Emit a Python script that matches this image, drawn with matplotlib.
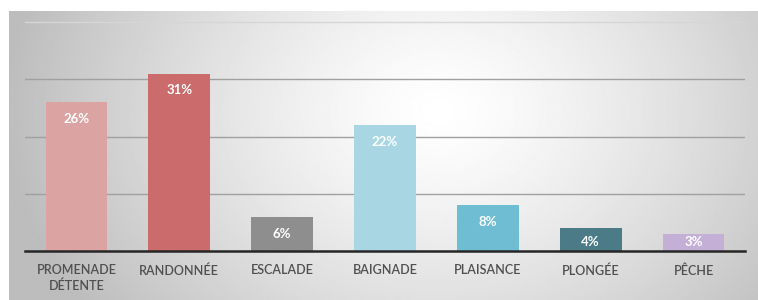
import numpy as np
import matplotlib
matplotlib.use("Agg")
import matplotlib.pyplot as plt

categories = ["PROMENADE\nDÉTENTE", "RANDONNÉE", "ESCALADE", "BAIGNADE", "PLAISANCE", "PLONGÉE", "PÊCHE"]
values = [26, 31, 6, 22, 8, 4, 3]
labels = ["26%", "31%", "6%", "22%", "8%", "4%", "3%"]
colors = ["#DCA3A3", "#CC6B6B", "#8E8E8E", "#A8D7E3", "#6EBDD2", "#4A7B86", "#C4AFD7"]
gridlines = [10, 20, 30]
top_line = 40

W, H = 758, 300
fig = plt.figure(figsize=(W / 100, H / 100), dpi=100)
fig.patch.set_facecolor("white")

# radial gradient background
bg = fig.add_axes([9 / W, 0, 1 - 9 / W, 1 - 11 / H])
bg.set_axis_off()
ny, nx = 290, 750
yy, xx = np.mgrid[0:ny, 0:nx]
cx, cy = 430, 100
d = np.sqrt(((xx - cx) / 420) ** 2 + ((yy - cy) / 330) ** 2)
g = np.clip(1.0 - 0.25 * d ** 1.3, 0.74, 1.0)
bg.imshow(g, cmap="gray", vmin=0, vmax=1, aspect="auto", interpolation="bilinear")

ax = fig.add_axes([25 / W, 1 - 251 / H, 720 / W, 229 / H])
ax.patch.set_alpha(0)
x = np.arange(len(categories))
ax.bar(x, values, width=0.6, color=colors, zorder=3, edgecolor="none")
ax.set_xlim(-0.5, len(categories) - 0.5)
ax.set_ylim(0, 40)
for gy in gridlines:
    ax.axhline(gy, color="#A0A0A0", linewidth=1.0, zorder=1)
ax.axhline(top_line, color="#D6D6D6", linewidth=1.0, zorder=1, clip_on=False)
ax.set_yticks([])
ax.tick_params(axis="x", bottom=False, pad=6)
for s in ["top", "right", "left"]:
    ax.spines[s].set_visible(False)
ax.spines["bottom"].set_color("#262626")
ax.spines["bottom"].set_linewidth(1.8)
ax.spines["bottom"].set_zorder(4)
ax.set_xticks(x)
ax.set_xticklabels(categories, fontsize=9, color="#505050", family="Lato",
                   fontweight="semibold", linespacing=1.3, va="top")

for xi, v, lab in zip(x, values, labels):
    ypos = max(v - 2.95, 1.5)
    ax.text(xi, ypos, lab, ha="center", va="center", color="white",
            fontsize=9.5, fontweight="bold", family="Lato", zorder=5)

fig.savefig("out.png", dpi=100)
